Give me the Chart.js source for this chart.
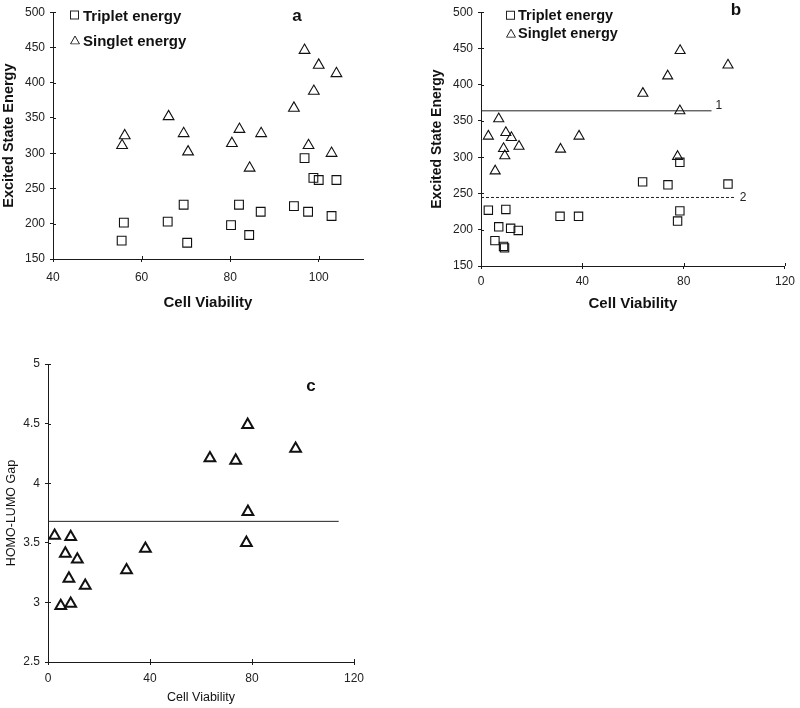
<!DOCTYPE html>
<html>
<head>
<meta charset="utf-8">
<script src="https://cdn.jsdelivr.net/npm/chart.js@4.4.1/dist/chart.umd.min.js"></script>
<style>
  body { margin: 0; background: #fff; font-family: "Liberation Sans", Arial, sans-serif; }
  #page { position: relative; width: 800px; height: 708px; overflow: hidden; }
  canvas { position: absolute; display: block; }
  .leg { position: absolute; display: flex; align-items: center; font-weight: bold; color: #111; white-space: nowrap; transform: translateY(-50%); line-height: 1; }
  .mk { width: 10px; height: 10px; display: flex; align-items: center; }
  .sq { width: 7px; height: 7px; border: 1px solid #222; }
  .tag { position: absolute; font-weight: bold; font-size: 17px; color: #111; transform: translate(-50%, -50%); line-height: 1; }
</style>
</head>
<body>
<div id="page">
  <canvas id="chartA" width="400" height="330" style="left:0;top:0"></canvas>
  <canvas id="chartB" width="400" height="330" style="left:400px;top:0"></canvas>
  <canvas id="chartC" width="400" height="378" style="left:0;top:330px"></canvas>

  <div class="leg" style="left:70px;top:15px;font-size:15px;gap:3px"><span class="mk"><span class="sq"></span></span>Triplet energy</div>
  <div class="leg" style="left:70px;top:40px;font-size:15px;gap:3px"><span class="mk"><svg width="10" height="9"><polygon points="5,0.5 9.5,8.5 0.5,8.5" fill="none" stroke="#222"/></svg></span>Singlet energy</div>
  <div class="tag" style="left:297px;top:15px">a</div>

  <div class="leg" style="left:506px;top:15px;font-size:14.5px;gap:2px"><span class="mk"><span class="sq"></span></span>Triplet energy</div>
  <div class="leg" style="left:506px;top:33px;font-size:14.5px;gap:2px"><span class="mk"><svg width="10" height="9"><polygon points="5,0.5 9.5,8.5 0.5,8.5" fill="none" stroke="#222"/></svg></span>Singlet energy</div>
  <div class="tag" style="left:736px;top:9px">b</div>

  <div class="tag" style="left:311px;top:385px">c</div>
</div>

<script>
// panel a
const aTripletX = [56, 55.5, 65.9, 69.5, 70.3, 80.2, 82, 84.3, 86.9, 94.4, 96.8, 97.6, 98.8, 100, 104, 102.9];
const aTripletY = [201.5, 176, 203, 227, 173, 198, 227, 184, 217, 225, 293, 217, 265, 262, 262, 211];
const aSingletX = [56.2, 55.6, 66.1, 69.5, 70.5, 80.4, 82.1, 87, 84.4, 94.4, 96.8, 100, 104, 98.9, 97.7, 102.9];
const aSingletY = [325, 311, 352, 328, 302, 314, 334, 328, 279, 364, 446, 425, 413, 388, 311, 300];

// panel b
const bTripletX = [2.9, 9.8, 7, 11.7, 14.7, 5.5, 8.9, 9.3, 31.2, 38.5, 63.8, 73.8, 78.5, 97.5, 78.5, 77.6];
const bTripletY = [227, 228, 204, 202, 199, 185, 177, 175, 218.5, 218.5, 266, 262, 293, 263, 226, 212];
const bSingletX = [2.9, 7, 9.8, 12, 8.9, 9.4, 15, 5.6, 31.4, 38.7, 63.9, 73.7, 78.6, 97.5, 78.5, 77.6];
const bSingletY = [329, 353, 334, 327, 312, 302, 315, 281, 311, 329, 388, 412, 447, 427, 364, 301];
const bLine1 = [[0, 364], [91, 364]];
const bLine2 = [[0, 244.5], [100.6, 244.5]];

// panel c
const cViability = [2.6, 8.9, 6.8, 11.5, 8.2, 14.6, 5.0, 8.9, 30.8, 38.2, 63.5, 73.6, 78.3, 97.1, 78.4, 77.8];
const cGap = [3.56, 3.55, 3.41, 3.36, 3.20, 3.14, 2.97, 2.99, 3.27, 3.45, 4.21, 4.19, 4.49, 4.29, 3.76, 3.50];
const cLine = [[0, 3.68], [114, 3.68]];

const axisColor = '#1a1a1a';
Chart.defaults.font.family = '"Liberation Sans", Arial, sans-serif';

function pairs(xs, ys) {
    return xs.map((x, i) => ({ x: x, y: ys[i] }));
}

// ticks in Excel style cross the axis, chart.js only draws the outer half
const crossTicks = {
    id: 'crossTicks',
    afterDraw(chart) {
        const { ctx, chartArea } = chart;
        const sx = chart.scales.x, sy = chart.scales.y;
        ctx.save();
        ctx.strokeStyle = axisColor;
        ctx.lineWidth = 1;
        ctx.beginPath();
        sx.ticks.forEach(t => {
            const px = Math.round(sx.getPixelForValue(t.value)) + 0.5;
            ctx.moveTo(px, chartArea.bottom);
            ctx.lineTo(px, chartArea.bottom - 3);
        });
        sy.ticks.forEach(t => {
            const py = Math.round(sy.getPixelForValue(t.value)) + 0.5;
            ctx.moveTo(chartArea.left, py);
            ctx.lineTo(chartArea.left + 3, py);
        });
        ctx.stroke();
        ctx.restore();
    }
};

// small "1" / "2" next to the end of the reference lines
const endLabels = {
    id: 'endLabels',
    afterDatasetsDraw(chart) {
        const ctx = chart.ctx;
        chart.data.datasets.forEach((ds, i) => {
            if (!ds.endLabel) return;
            const pts = chart.getDatasetMeta(i).data;
            const last = pts[pts.length - 1];
            ctx.save();
            ctx.font = '12px "Liberation Sans", Arial, sans-serif';
            ctx.fillStyle = '#222';
            ctx.textBaseline = 'middle';
            ctx.fillText(ds.endLabel, last.x + 4, last.y + (ds.endLabelDy || 0));
            ctx.restore();
        });
    }
};

function markers(data, style, radius, width) {
    return {
        data: data,
        pointStyle: style,
        pointRadius: radius,
        pointBorderWidth: width,
        borderColor: '#111',
        backgroundColor: 'rgba(255,255,255,0)'
    };
}

function refLine(points, dash, label, dy) {
    return {
        data: points.map(p => ({ x: p[0], y: p[1] })),
        showLine: true,
        pointRadius: 0,
        borderColor: '#222',
        borderWidth: 1,
        borderDash: dash,
        endLabel: label,
        endLabelDy: dy
    };
}

function buildChart(canvasId, datasets, ax) {
    const ctx = document.getElementById(canvasId).getContext('2d');
    return new Chart(ctx, {
        type: 'scatter',
        data: { datasets: datasets },
        options: {
            responsive: false,
            animation: false,
            events: [],
            layout: { padding: ax.padding },
            plugins: { legend: { display: false }, tooltip: { enabled: false } },
            scales: {
                x: {
                    type: 'linear',
                    min: ax.xMin,
                    max: ax.xMax,
                    ticks: { stepSize: ax.xStep, padding: ax.xTickPad, color: '#222', font: { size: 12 }, maxRotation: 0, autoSkip: false },
                    afterBuildTicks: s => { s.ticks = s.ticks.filter(t => t.value % ax.xStep === 0); },
                    afterFit: s => { s.height = ax.xHeight; },
                    grid: { drawOnChartArea: false, tickLength: 3, color: axisColor },
                    border: { color: axisColor, width: 1 },
                    title: { display: true, text: 'Cell Viability', color: '#111', font: ax.xTitleFont, padding: { top: 0, bottom: ax.xTitlePad } }
                },
                y: {
                    type: 'linear',
                    min: ax.yMin,
                    max: ax.yMax,
                    ticks: { stepSize: ax.yStep, padding: 5, color: '#222', font: { size: 12 }, callback: v => String(v) },
                    afterFit: s => { s.width = ax.yWidth; },
                    grid: { drawOnChartArea: false, tickLength: 3, color: axisColor },
                    border: { color: axisColor, width: 1 },
                    title: { display: true, text: ax.yTitle, color: '#111', font: ax.yTitleFont, padding: { top: ax.yTitlePad, bottom: 0 } }
                }
            }
        },
        plugins: [crossTicks, endLabels]
    });
}

document.addEventListener('DOMContentLoaded', () => {
    buildChart('chartA', [
        markers(pairs(aTripletX, aTripletY), 'rect', 6.2, 1.1),
        markers(pairs(aSingletX, aSingletY), 'triangle', 6.2, 1.1)
    ], {
        padding: { left: 0, top: 10, right: 37, bottom: 0 },
        xMin: 40, xMax: 110, xStep: 20, xHeight: 71, xTickPad: 8,
        xTitleFont: { size: 15, weight: 'bold' }, xTitlePad: 18,
        yMin: 150, yMax: 500, yStep: 50, yWidth: 53,
        yTitle: 'Excited State Energy', yTitleFont: { size: 14.5, weight: 'bold' }, yTitlePad: 0
    });

    buildChart('chartB', [
        markers(pairs(bTripletX, bTripletY), 'rect', 5.9, 1.1),
        markers(pairs(bSingletX, bSingletY), 'triangle', 5.8, 1.1),
        refLine(bLine1, [], '1', -5),
        refLine(bLine2, [3, 2], '2', 0)
    ], {
        padding: { left: 0, top: 7, right: 12, bottom: 0 },
        xMin: 0, xMax: 120, xStep: 40, xHeight: 64, xTickPad: 5,
        xTitleFont: { size: 15, weight: 'bold' }, xTitlePad: 17,
        yMin: 150, yMax: 500, yStep: 50, yWidth: 81,
        yTitle: 'Excited State Energy', yTitleFont: { size: 14, weight: 'bold' }, yTitlePad: 29
    });

    buildChart('chartC', [
        markers(pairs(cViability, cGap), 'triangle', 6.2, 2),
        refLine(cLine, [], null, 0)
    ], {
        padding: { left: 0, top: 34, right: 46, bottom: 0 },
        xMin: 0, xMax: 120, xStep: 40, xHeight: 46, xTickPad: 6,
        xTitleFont: { size: 12.5 }, xTitlePad: 2.5,
        yMin: 2.5, yMax: 5, yStep: 0.5, yWidth: 48,
        yTitle: 'HOMO-LUMO Gap', yTitleFont: { size: 12.5 }, yTitlePad: 4
    });
});
</script>
</body>
</html>
